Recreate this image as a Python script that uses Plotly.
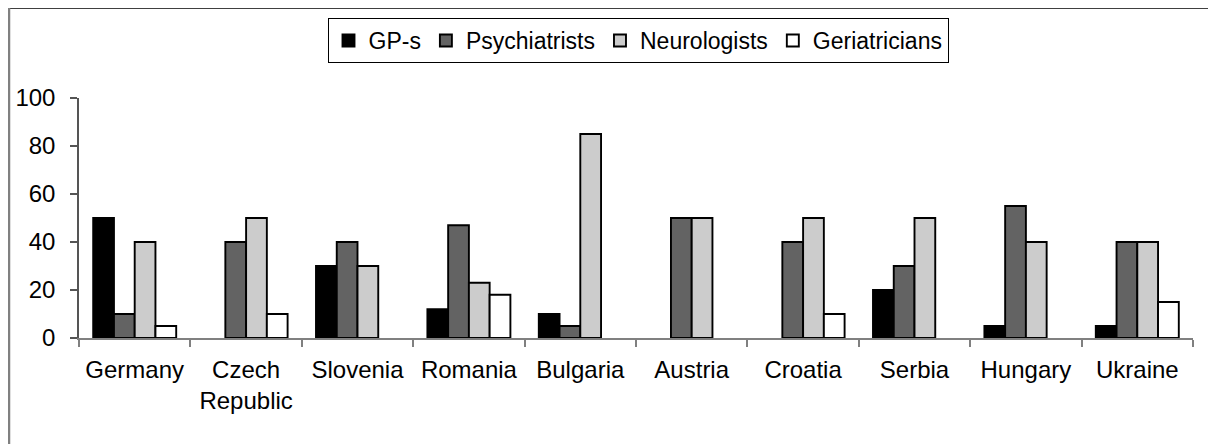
import plotly.graph_objects as go

countries = ["Germany", "Czech<br>Republic", "Slovenia", "Romania", "Bulgaria",
             "Austria", "Croatia", "Serbia", "Hungary", "Ukraine"]
# None = no bar drawn (value not reported / zero)
gps = [50, None, 30, 12, 10, None, None, 20, 5, 5]
psychiatrists = [10, 40, 40, 47, 5, 50, 40, 30, 55, 40]
neurologists = [40, 50, 30, 23, 85, 50, 50, 50, 40, 40]
geriatricians = [5, 10, None, 18, None, None, 10, None, None, 15]
y_ticks = [0, 20, 40, 60, 80, 100]

series = [
    ("GP-s", gps, "#000000"),
    ("Psychiatrists", psychiatrists, "#636363"),
    ("Neurologists", neurologists, "#cccccc"),
    ("Geriatricians", geriatricians, "#ffffff"),
]

FONT = "Liberation Sans, Arial, sans-serif"

fig = go.Figure()
for name, vals, color in series:
    fig.add_trace(go.Bar(
        x=countries, y=vals, name=name,
        marker=dict(color=color, line=dict(color="#000000", width=1.9)),
    ))

# page is offset by 8px body margin; work in figure coordinates
OFF = 8
W, H = 1216 - OFF, 444 - OFF
L, T = 79 - OFF, 98 - OFF
R = W - (1193 - OFF)
B = H - (338 - OFF)
pw, ph = W - L - R, H - T - B

def px(x):  # page x -> paper
    return (x - OFF - L) / pw

def py(y):  # page y -> paper
    return (H - B - (y - OFF)) / ph

fig.update_layout(
    width=W, height=H,
    margin=dict(l=L, r=R, t=T, b=B, autoexpand=False),
    paper_bgcolor="white", plot_bgcolor="white",
    barmode="group", bargap=0.255, bargroupgap=0,
    font=dict(family=FONT, color="#000000"),
    showlegend=True,
    legend=dict(
        orientation="h", x=px(638), xanchor="center", y=py(18), yanchor="top",
        bordercolor="#000000", borderwidth=1, bgcolor="white",
        font=dict(size=23, family=FONT), itemwidth=30,
        traceorder="normal",
    ),
    xaxis=dict(
        showline=True, linecolor="#808080", linewidth=1.5,
        ticks="outside", ticklen=7, tickcolor="#808080", tickwidth=1.5,
        tickson="boundaries", tickfont=dict(size=24, family=FONT),
        tickangle=0, ticklabelstandoff=9,
        showgrid=False, fixedrange=True,
    ),
    yaxis=dict(
        range=[0, 100], tickvals=y_ticks,
        showline=True, linecolor="#555555", linewidth=1.5,
        ticks="outside", ticklen=7, tickcolor="#555555", tickwidth=1.5,
        tickfont=dict(size=24, family=FONT), ticklabelstandoff=10,
        showgrid=False, zeroline=False, fixedrange=True,
    ),
    shapes=[
        dict(type="line", xref="paper", yref="paper",
             x0=px(8), x1=px(1240), y0=py(8), y1=py(8),
             line=dict(color="#404040", width=2)),
        dict(type="line", xref="paper", yref="paper",
             x0=px(9), x1=px(9), y0=py(8), y1=py(470),
             line=dict(color="#808080", width=2.5)),
    ],
)

fig.write_html("out.html")
